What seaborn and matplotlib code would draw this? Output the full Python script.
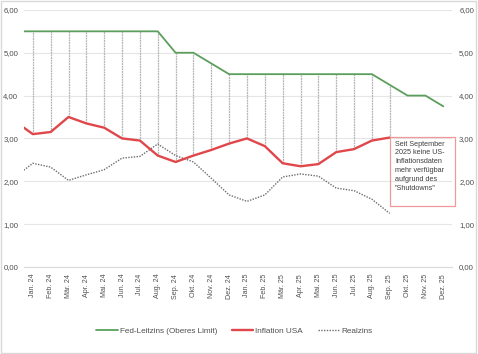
import numpy as np
import pandas as pd
import seaborn as sns
import matplotlib.pyplot as plt
from matplotlib.patches import Rectangle
from matplotlib.lines import Line2D

sns.set_style("white")
plt.rcParams["font.family"] = ["Liberation Sans", "DejaVu Sans"]

# Monate (Dez. 23 liegt links ausserhalb des sichtbaren Bereichs)
months = ["Dez. 23",
          "Jan. 24", "Feb. 24", "Mär. 24", "Apr. 24", "Mai. 24", "Jun. 24",
          "Jul. 24", "Aug. 24", "Sep. 24", "Okt. 24", "Nov. 24", "Dez. 24",
          "Jan. 25", "Feb. 25", "Mär. 25", "Apr. 25", "Mai. 25", "Jun. 25",
          "Jul. 25", "Aug. 25", "Sep. 25", "Okt. 25", "Nov. 25", "Dez. 25"]

fed = [5.5,
       5.5, 5.5, 5.5, 5.5, 5.5, 5.5, 5.5, 5.5, 5.0, 5.0, 4.75, 4.5,
       4.5, 4.5, 4.5, 4.5, 4.5, 4.5, 4.5, 4.5, 4.25, 4.0, 4.0, 3.75]

inflation = [3.4,
             3.1, 3.15, 3.5, 3.35, 3.25, 3.0, 2.95, 2.6, 2.45, 2.6, 2.73, 2.88,
             3.0, 2.82, 2.42, 2.35, 2.4, 2.68, 2.75, 2.95, 3.02]

realzins = [2.1,
            2.42, 2.33, 2.02, 2.15, 2.27, 2.54, 2.58, 2.87, 2.6, 2.45, 2.07, 1.68,
            1.53, 1.68, 2.1, 2.17, 2.12, 1.84, 1.78, 1.58, 1.25]

pos = np.arange(len(months)) - 1
df = pd.DataFrame({"pos": pos, "Monat": months, "Fed": fed})
df["Inflation"] = pd.Series(inflation, dtype=float)
df["Realzins"] = pd.Series(realzins, dtype=float)

txt = "#505050"
green = "#5c9f5c"
red = "#e0474a"
gray = "#6e6e6e"

fig = plt.figure(figsize=(4.78, 3.54), dpi=100, facecolor="w")
fig.patches.append(Rectangle((0.002, 0.003), 0.994, 0.994, transform=fig.transFigure,
                             fill=False, edgecolor="#d9d9d9", linewidth=1))
ax = fig.add_axes([0.050, 0.246, 0.896, 0.726])

# High-Low-Linien zwischen Leitzins und Inflation
hl = df.dropna(subset=["Inflation"])
hl = hl[hl["pos"] >= 0]
ax.vlines(hl["pos"], hl["Inflation"], hl["Fed"], colors="#b4b4b4",
          linewidth=0.9, linestyles=(0, (1.5, 0.6)), zorder=1)

sns.lineplot(data=df, x="pos", y="Fed", ax=ax, color=green, linewidth=1.3, zorder=3)
sns.lineplot(data=df, x="pos", y="Inflation", ax=ax, color=red, linewidth=1.7, zorder=4)
sns.lineplot(data=df, x="pos", y="Realzins", ax=ax, color=gray, linewidth=1.0,
             linestyle=(0, (1, 1)), zorder=2)

ax.set_xlim(-0.5, 23.5)
ax.set_ylim(0, 6)
ax.set_yticks(np.arange(0, 7, 1))
ax.set_yticklabels([f"{v:.2f}".replace(".", ",") for v in range(7)])
ax.yaxis.grid(True, color="#e6e6e6", linewidth=0.8)
ax.set_axisbelow(True)
ax.set_xticks(pos[1:])
ax.set_xticklabels(months[1:], rotation=90, fontsize=5.1, color=txt)
ax.set_xticks(np.arange(-0.5, 24, 1), minor=True)
ax.tick_params(axis="x", which="major", length=0, pad=5)
ax.tick_params(axis="x", which="minor", length=3, color="#d9d9d9", width=0.6)
ax.tick_params(axis="y", length=0, labelsize=5.6, labelcolor=txt, pad=4)
ax.set_xlabel("")
ax.set_ylabel("")
for s in ["top", "left", "right"]:
    ax.spines[s].set_visible(False)
ax.spines["bottom"].set_color("#d9d9d9")
ax.spines["bottom"].set_linewidth(0.8)

ax2 = ax.twinx()
ax2.set_ylim(0, 6)
ax2.set_yticks(np.arange(0, 7, 1))
ax2.set_yticklabels([f"{v:.2f}".replace(".", ",") for v in range(7)])
ax2.tick_params(axis="y", length=0, labelsize=5.6, labelcolor=txt, pad=5)
for s in ax2.spines.values():
    s.set_visible(False)

# Hinweisbox
ax.add_patch(Rectangle((20.0, 1.43), 3.66, 1.61, fill=False, edgecolor="#ee9a9a",
                       linewidth=0.9, clip_on=False, zorder=5))
ax.text(20.3, 2.95, "Seit September\n2025 keine US-\nInflationsdaten\nmehr verfügbar\n"
        "aufgrund des\n\"Shutdowns\"", fontsize=5.2, color="#3f3f3f", va="top", ha="left",
        linespacing=1.38, zorder=6)

handles = [Line2D([], [], color=green, linewidth=1.3),
           Line2D([], [], color=red, linewidth=1.7),
           Line2D([], [], color=gray, linewidth=1.0, linestyle=(0, (1, 1)))]
fig.legend(handles, ["Fed-Leitzins (Oberes Limit)", "Inflation USA", "Realzins"],
           loc="center", bbox_to_anchor=(0.49, 0.065), ncol=3, frameon=False,
           fontsize=5.9, labelcolor=txt, handlelength=2.6, handletextpad=0.25,
           columnspacing=1.8)

fig.savefig("out.png", dpi=100, facecolor="w")
